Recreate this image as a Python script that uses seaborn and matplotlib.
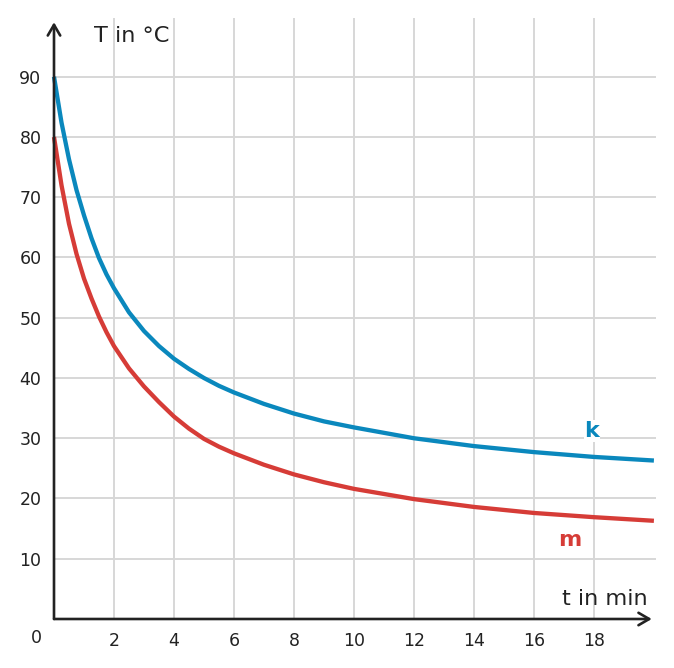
import matplotlib
matplotlib.use("Agg")
import matplotlib.pyplot as plt
import seaborn as sns
import pandas as pd

# ---- data ----
t_values = [0, 0.25, 0.5, 0.75, 1, 1.25, 1.5, 1.75, 2, 2.5, 3, 3.5, 4, 4.5, 5, 5.5,
            6, 7, 8, 9, 10, 12, 14, 16, 18, 20]
k_values = [90, 82.4, 76.3, 71.2, 67.0, 63.2, 59.9, 57.2, 54.9, 50.9, 47.8, 45.3, 43.2, 41.5, 40.0, 38.7,
            37.6, 35.7, 34.1, 32.8, 31.8, 30.0, 28.7, 27.7, 26.9, 26.3]
m_values = [80, 72.0, 65.6, 60.6, 56.5, 53.2, 50.2, 47.6, 45.3, 41.6, 38.6, 36.0, 33.6, 31.6, 29.9, 28.6,
            27.5, 25.6, 24.0, 22.7, 21.6, 19.9, 18.6, 17.6, 16.9, 16.3]
series_names = ["k", "m"]
series_colors = {"k": "#0a88bd", "m": "#d63c37"}
x_ticks = [2, 4, 6, 8, 10, 12, 14, 16, 18]
y_ticks = [10, 20, 30, 40, 50, 60, 70, 80, 90]
x_label = "t in min"
y_label = "T in °C"

df = pd.DataFrame({
    "t": t_values * 2,
    "T": k_values + m_values,
    "series": ["k"] * len(t_values) + ["m"] * len(t_values),
})

sns.set_style("white")
plt.rcParams['font.family'] = ['DejaVu Sans']

fig = plt.figure(figsize=(6.74, 6.68), dpi=100)
ax = fig.add_axes([54 / 674, 49 / 668, 602 / 674, 601 / 668])

ax.set_xlim(0, 20.07)
ax.set_ylim(0, 99.75)

ax.set_xticks(x_ticks)
ax.set_yticks(y_ticks)
ax.grid(True, color="#d7d7d7", linewidth=1.4, zorder=0)
ax.set_axisbelow(True)

sns.lineplot(data=df, x="t", y="T", hue="series", palette=series_colors,
             linewidth=3.1, legend=False, ax=ax, zorder=3, clip_on=False)
for ln in ax.get_lines():
    ln.set_solid_joinstyle("round")
    ln.set_solid_capstyle("butt")

for s in ax.spines.values():
    s.set_visible(False)

dark = "#222222"
ax.tick_params(axis="both", direction="in", length=5, width=1.6, color=dark,
               labelsize=12.5, labelcolor=dark)
ax.tick_params(axis="x", pad=9)
ax.tick_params(axis="y", pad=9)
ax.set_xlabel("")
ax.set_ylabel("")

# axis lines with arrows
arrow_kw = dict(arrowstyle="->,head_length=0.55,head_width=0.32", color=dark, lw=1.9,
                shrinkA=0, shrinkB=0, mutation_scale=14)
ax.annotate("", xy=(0.993, 0), xytext=(0, 0), xycoords="axes fraction",
            textcoords="axes fraction", arrowprops=arrow_kw, zorder=5, annotation_clip=False)
ax.annotate("", xy=(0, 0.993), xytext=(0, 0), xycoords="axes fraction",
            textcoords="axes fraction", arrowprops=arrow_kw, zorder=5, annotation_clip=False)

# origin label
ax.annotate("0", xy=(0, 0), xytext=(-12.5, -13.5), textcoords="offset points",
            ha="center", va="center", fontsize=12.5, color=dark, annotation_clip=False)

# axis titles
ax.text(1.32, 96.8, y_label, fontsize=16.2, color=dark, ha="left", va="center")
ax.text(19.8, 3.3, x_label, fontsize=16.2, color=dark, ha="right", va="center")

# series labels
ax.text(17.93, 31.2, "k", fontsize=16, fontweight="bold", color=series_colors["k"],
        ha="center", va="center", zorder=4,
        bbox=dict(facecolor="white", edgecolor="none", pad=0.5))
ax.text(17.2, 13.1, "m", fontsize=16, fontweight="bold", color=series_colors["m"],
        ha="center", va="center", zorder=4,
        bbox=dict(facecolor="white", edgecolor="none", pad=0.5))

fig.savefig("out.png", dpi=100, facecolor="white")
